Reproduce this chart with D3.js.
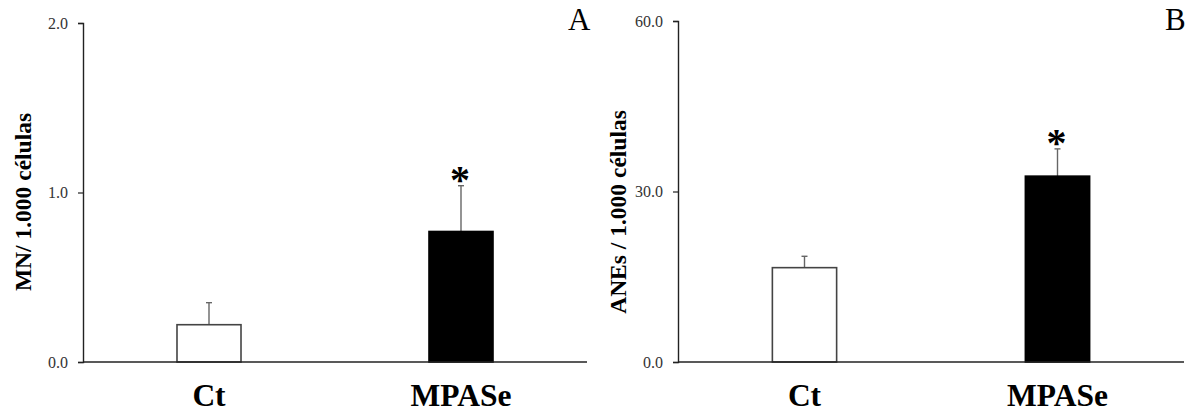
<!DOCTYPE html>
<html>
<head>
<meta charset="utf-8">
<script src="https://cdn.jsdelivr.net/npm/d3@7"></script>
<style>
  html, body { margin: 0; padding: 0; background: #fff; }
  svg { display: block; }
</style>
</head>
<body>
<svg id="chart" width="1192" height="412"></svg>
<script>
// Groups and measured values (mean ± error) for each panel
const groups = ["Ct", "MPASe"];
const mnMeans = [0.22, 0.77];
const mnErrors = [0.13, 0.27];
const anesMeans = [16.6, 32.7];
const anesErrors = [2.0, 4.8];
const mnTicks = [0, 1, 2];
const anesTicks = [0, 30, 60];
const marks = ["", "*"];
const fills = ["#ffffff", "#000000"];

const SERIF = "'Liberation Serif', 'Times New Roman', 'DejaVu Serif', serif";
const svg = d3.select("#chart");

function panel(opts) {
  const g = svg.append("g");
  const x = d3.scaleBand()
    .domain(groups)
    .range([opts.x0, opts.x1])
    .paddingInner(0.746)
    .paddingOuter(0.373);
  const y = d3.scaleLinear()
    .domain([0, opts.max])
    .range([opts.yBottom, opts.yTop]);

  // y axis
  const yAxis = d3.axisLeft(y)
    .tickValues(opts.ticks)
    .tickFormat(d3.format(".1f"))
    .tickSize(5)
    .tickPadding(10);
  const ya = g.append("g")
    .attr("transform", `translate(${opts.x0},0)`)
    .call(yAxis);
  ya.select(".domain").attr("stroke", "#222").attr("stroke-width", 1.4);
  ya.selectAll(".tick line").attr("stroke", "#222").attr("stroke-width", 1.2);
  ya.selectAll(".tick text")
    .style("font-family", SERIF)
    .style("font-size", "16px")
    .attr("fill", "#333");

  const data = groups.map((k, i) => ({ k, m: opts.means[i], e: opts.errors[i], mark: marks[i], fill: fills[i] }));

  // error bars (upper only)
  data.forEach(d => {
    const cx = x(d.k) + x.bandwidth() / 2;
    g.append("line")
      .attr("x1", cx).attr("x2", cx)
      .attr("y1", y(d.m)).attr("y2", y(d.m + d.e))
      .attr("stroke", "#666").attr("stroke-width", 1.4);
    g.append("line")
      .attr("x1", cx - 3).attr("x2", cx + 3)
      .attr("y1", y(d.m + d.e)).attr("y2", y(d.m + d.e))
      .attr("stroke", "#666").attr("stroke-width", 1.4);
  });

  // bars
  g.selectAll("rect.bar")
    .data(data)
    .join("rect")
    .attr("class", "bar")
    .attr("x", d => x(d.k))
    .attr("y", d => y(d.m))
    .attr("width", x.bandwidth())
    .attr("height", d => y(0) - y(d.m))
    .attr("fill", d => d.fill)
    .attr("stroke", d => d.fill === "#000000" ? "#000" : "#444")
    .attr("stroke-width", 1.6);

  // significance marks above the error bar
  data.filter(d => d.mark).forEach(d => {
    g.append("text")
      .attr("x", x(d.k) + x.bandwidth() / 2 - 1)
      .attr("y", y(d.m + d.e) - 15)
      .attr("text-anchor", "middle")
      .style("font-family", SERIF)
      .style("font-weight", "bold")
      .style("font-size", "40px")
      .attr("dy", "0.55em")
      .text(d.mark);
  });

  // baseline
  g.append("line")
    .attr("x1", opts.x0).attr("x2", opts.x1)
    .attr("y1", y(0)).attr("y2", y(0))
    .attr("stroke", "#222").attr("stroke-width", 1.6);

  // category labels
  g.selectAll("text.cat")
    .data(groups)
    .join("text")
    .attr("class", "cat")
    .attr("x", d => x(d) + x.bandwidth() / 2)
    .attr("y", 406)
    .attr("text-anchor", "middle")
    .style("font-family", SERIF)
    .style("font-weight", "bold")
    .style("font-size", "31.5px")
    .text(d => d);

  // y title
  g.append("text")
    .attr("transform", `translate(${opts.titleX},${opts.titleY}) rotate(-90)`)
    .attr("text-anchor", "middle")
    .style("font-family", SERIF)
    .style("font-weight", "bold")
    .style("font-size", "23.5px")
    .text(opts.title);

  // panel letter
  g.append("text")
    .attr("x", opts.letterX)
    .attr("y", 30)
    .style("font-family", SERIF)
    .style("font-size", "31px")
    .text(opts.letter);
}

panel({
  x0: 83, x1: 587, yTop: 23, yBottom: 362, max: 2,
  ticks: mnTicks, means: mnMeans, errors: mnErrors,
  title: "MN/ 1.000 células", titleX: 31, titleY: 202,
  letter: "A", letterX: 568
});

panel({
  x0: 678, x1: 1184, yTop: 21, yBottom: 362, max: 60,
  ticks: anesTicks, means: anesMeans, errors: anesErrors,
  title: "ANEs / 1.000 células", titleX: 626, titleY: 212,
  letter: "B", letterX: 1165
});
</script>
</body>
</html>
